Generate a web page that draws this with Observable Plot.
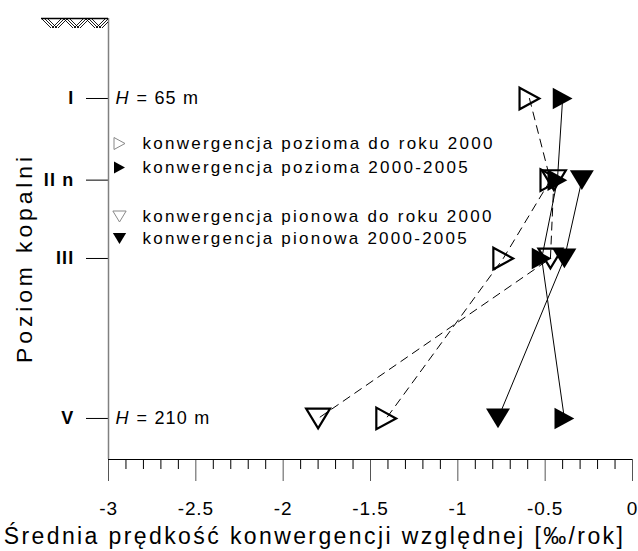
<!DOCTYPE html>
<html>
<head>
<meta charset="utf-8">
<script src="https://cdn.jsdelivr.net/npm/d3@7"></script>
<script src="https://cdn.jsdelivr.net/npm/@observablehq/plot@0.6"></script>
<style>
  html, body { margin: 0; padding: 0; background: #fff; }
  svg { display: block; }
  g[font-size="18"] { letter-spacing: 1.2px; }
  g[font-size="19"] { letter-spacing: 0.9px; }
  g[font-size="17"] { letter-spacing: 2.25px; }
  g[font-size="23"] { letter-spacing: 2.4px; }
  g[font-size="22.9"] { letter-spacing: 3.9px; }
</style>
</head>
<body>
<div id="chart"></div>
<script>
// ---- data ----
const levels = ["I", "II n", "III", "V"];
const depths = [65, 102, 137.5, 210];            // m (I and V labelled, others estimated)
const depthDomain = [28.75, 228.6];
const xDomain = [-3, 0];
const xTicks = [-3, -2.5, -2, -1.5, -1, -0.5, 0];
const xTickLabels = ["-3", "-2.5", "-2", "-1.5", "-1", "-0.5", "0"];
const xMinorTicks = d3.range(-29, 0).map(k => k / 10).filter(v => Math.abs(v * 2 - Math.round(v * 2)) > 1e-9);

const poziomaDo2000    = [-0.59, -0.47, -0.74, -1.41];
const pozioma2000_2005 = [-0.40, -0.43, -0.52, -0.39];
const pionowaDo2000    = [null, -0.45, -0.47, -1.80];
const pionowa2000_2005 = [null, -0.29, -0.39, -0.77];

const seriesNames = [
  "konwergencja pozioma do roku 2000",
  "konwergencja pozioma 2000-2005",
  "konwergencja pionowa do roku 2000",
  "konwergencja pionowa 2000-2005"
];
const seriesValues = [poziomaDo2000, pozioma2000_2005, pionowaDo2000, pionowa2000_2005];
const seriesOpen = [true, false, true, false];
const seriesShape = ["right", "right", "down", "down"];

const hDepths = [65, 210];
const hTexts = ["= 65 m", "= 210 m"];
const xTitle = "Średnia prędkość konwergencji względnej [‰/rok]";
const yTitle = "Poziom kopalni";

// ---- symbols (centred on their bounding box) ----
const triRight = {
  draw(ctx, size) {
    const r = Math.sqrt(size / Math.PI);
    ctx.moveTo(-1.1 * r, -1.2 * r);
    ctx.lineTo(1.1 * r, 0);
    ctx.lineTo(-1.1 * r, 1.2 * r);
    ctx.closePath();
  }
};
const triDown = {
  draw(ctx, size) {
    const r = Math.sqrt(size / Math.PI);
    ctx.moveTo(-1.33 * r, -1.1 * r);
    ctx.lineTo(1.33 * r, -1.1 * r);
    ctx.lineTo(0, 1.1 * r);
    ctx.closePath();
  }
};
const symFor = s => s === "right" ? triRight : triDown;

// ---- table ----
const rows = [];
seriesValues.forEach((vals, s) => {
  vals.forEach((v, i) => {
    if (v != null) rows.push({series: seriesNames[s], s, level: levels[i], depth: depths[i], v});
  });
});
const levelRows = levels.map((name, i) => ({name, depth: depths[i]}));
const hRows = hDepths.map((d, i) => ({depth: d, text: hTexts[i]}));
const tickRows = xTicks.map((v, i) => ({v, label: xTickLabels[i]}));

// ---- ground hatch (decoration) ----
function hatchMark(index, scales, values, dims) {
  const g = d3.create("svg:g");
  const x1 = dims.marginLeft, x0 = x1 - 67, y0 = dims.marginTop, h = 10;
  const id = "hatchclip";
  g.append("clipPath").attr("id", id).append("rect")
    .attr("x", x0).attr("y", y0).attr("width", x1 - x0).attr("height", h);
  const lg = g.append("g").attr("clip-path", `url(#${id})`)
    .attr("stroke", "black").attr("stroke-width", 0.9);
  let cell = 0;
  for (let x = x0; x < x1 + 12; x += 11, cell++) {
    for (let k = 0; k < 3; k++) {
      const xs = x + k * 3;
      if (cell % 2 === 0) lg.append("line").attr("x1", xs).attr("y1", y0).attr("x2", xs + h).attr("y2", y0 + h);
      else lg.append("line").attr("x1", xs + h).attr("y1", y0).attr("x2", xs).attr("y2", y0 + h);
    }
  }
  g.append("line").attr("x1", x0).attr("x2", x1).attr("y1", y0 + 0.5).attr("y2", y0 + 0.5)
    .attr("stroke", "black").attr("stroke-width", 1.5);
  return g.node();
}

// ---- legend marks ----
const legendDy = [125, 149, 198, 220];
const legendMarks = seriesNames.flatMap((name, i) => [
  Plot.dot([name], {
    frameAnchor: "top-left", dx: 11, dy: legendDy[i],
    symbol: symFor(seriesShape[i]), r: 5,
    fill: seriesOpen[i] ? "none" : "black",
    stroke: seriesOpen[i] ? "#888" : "none", strokeWidth: 1
  }),
  Plot.text([name], {
    frameAnchor: "top-left", dx: 34, dy: legendDy[i], text: d => d,
    textAnchor: "start", lineAnchor: "middle", fontSize: 17, fill: "black"
  })
]);

const dotMarks = [0, 2, 1, 3].map(s => Plot.dot(rows.filter(r => r.s === s), {
  x: "v", y: "depth",
  symbol: symFor(seriesShape[s]), r: 9,
  fill: seriesOpen[s] ? "none" : "black",
  stroke: seriesOpen[s] ? "black" : "none",
  strokeWidth: 2.2
}));

const chart = Plot.plot({
  width: 638,
  height: 551,
  marginTop: 18,
  marginBottom: 92,
  marginLeft: 108,
  marginRight: 6,
  style: {fontFamily: "'Liberation Sans', Arial, sans-serif", background: "white", color: "black"},
  x: {domain: xDomain},
  y: {domain: depthDomain, reverse: true},
  marks: [
    Plot.axisX({ticks: xMinorTicks, tickSize: 10, tickFormat: () => "", label: null, stroke: "black"}),
    Plot.axisX({ticks: xTicks, tickSize: 22, tickFormat: () => "", label: null, stroke: "#555"}),
    Plot.axisY({ticks: depths, tickSize: 22, tickFormat: () => "", label: null, stroke: "black"}),
    Plot.ruleY([depthDomain[1]], {stroke: "black", strokeWidth: 1}),
    Plot.ruleX([xDomain[0]], {stroke: "#808080", strokeWidth: 1.5}),
    hatchMark,
    Plot.line(rows.filter(r => seriesOpen[r.s]), {x: "v", y: "depth", z: "series", stroke: "black", strokeWidth: 1, strokeDasharray: "8,6"}),
    Plot.line(rows.filter(r => !seriesOpen[r.s]), {x: "v", y: "depth", z: "series", stroke: "black", strokeWidth: 1}),
    ...dotMarks,
    Plot.text(tickRows, {x: "v", text: "label", frameAnchor: "bottom", lineAnchor: "middle", dy: 49, fontSize: 19, fill: "black"}),
    Plot.text([xTitle], {frameAnchor: "bottom", text: d => d, textAnchor: "middle", lineAnchor: "middle", dx: -56, dy: 77, fontSize: 23, fill: "black"}),
    Plot.text([yTitle], {frameAnchor: "left", text: d => d, textAnchor: "middle", lineAnchor: "middle", rotate: -90, dx: -84, dy: 19, fontSize: 22.9, fill: "black"}),
    Plot.text(levelRows, {y: "depth", text: "name", frameAnchor: "left", dx: -34, textAnchor: "end", lineAnchor: "middle", fontWeight: "bold", fontSize: 18, fill: "black"}),
    Plot.text(hRows, {y: "depth", text: () => "H", frameAnchor: "left", dx: 7, textAnchor: "start", lineAnchor: "middle", fontStyle: "italic", fontSize: 18, fill: "black"}),
    Plot.text(hRows, {y: "depth", text: "text", frameAnchor: "left", dx: 28, textAnchor: "start", lineAnchor: "middle", fontSize: 18, fill: "black"}),
    ...legendMarks
  ]
});
document.getElementById("chart").appendChild(chart);
</script>
</body>
</html>
